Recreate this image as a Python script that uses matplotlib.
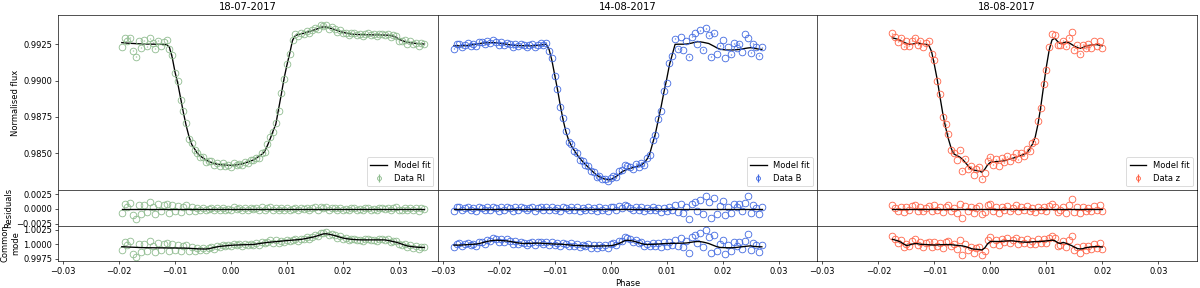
import matplotlib
matplotlib.use("Agg")
import matplotlib.pyplot as plt
import numpy as np

# values
# phase in units of 1e-4, offsets / residuals in ppm

titles = ['18-07-2017', '14-08-2017', '18-08-2017']
labels = ['Data RI', 'Data B', 'Data z']
colors = ['#8fbc8f', 'royalblue', 'tomato']
flux_err = 2e-5

# ---- 18-07-2017, RI ----
ri_phase = [-195, -190, -185, -180, -175, -170, -165, -160, -155, -150,
            -145, -140, -135, -130, -125, -120, -115, -110, -105, -100,
            -95, -90, -85, -80, -75, -70, -65, -60, -55, -50,
            -45, -40, -35, -30, -25, -20, -15, -10, -5, 0,
            5, 10, 15, 20, 25, 30, 35, 40, 45, 50,
            55, 60, 65, 70, 75, 80, 85, 90, 95, 100,
            105, 110, 115, 120, 125, 130, 135, 140, 145, 150,
            155, 160, 165, 170, 175, 180, 185, 190, 195, 200,
            205, 210, 215, 220, 225, 230, 235, 240, 245, 250,
            255, 260, 265, 270, 275, 280, 285, 290, 295, 300,
            305, 310, 315, 320, 325, 330, 335, 340, 345]
ri_model = [0.99262, 0.99260, 0.99258, 0.99257, 0.99256, 0.99255, 0.99254, 0.99253, 0.99253, 0.99252,
            0.99252, 0.99251, 0.99251, 0.99250, 0.99250, 0.99250, 0.99248, 0.99230, 0.99160, 0.99060,
            0.98980, 0.98880, 0.98780, 0.98690, 0.98615, 0.98560, 0.98530, 0.98500, 0.98482, 0.98468,
            0.98455, 0.98445, 0.98436, 0.98430, 0.98425, 0.98422, 0.98420, 0.98419, 0.98418, 0.98418,
            0.98419, 0.98421, 0.98424, 0.98427, 0.98433, 0.98440, 0.98447, 0.98454, 0.98466, 0.98480,
            0.98492, 0.98512, 0.98553, 0.98600, 0.98652, 0.98700, 0.98805, 0.98910, 0.99020, 0.99110,
            0.99190, 0.99280, 0.99310, 0.99318, 0.99322, 0.99326, 0.99332, 0.99338, 0.99345, 0.99351,
            0.99358, 0.99365, 0.99371, 0.99369, 0.99363, 0.99358, 0.99352, 0.99345, 0.99338, 0.99333,
            0.99328, 0.99324, 0.99320, 0.99319, 0.99318, 0.99317, 0.99317, 0.99316, 0.99316, 0.99316,
            0.99315, 0.99315, 0.99315, 0.99314, 0.99314, 0.99313, 0.99310, 0.99306, 0.99298, 0.99285,
            0.99277, 0.99270, 0.99265, 0.99261, 0.99259, 0.99256, 0.99255, 0.99253, 0.99252]
ri_sys = [0.99956, 0.99954, 0.99951, 0.99949, 0.99947, 0.99945, 0.99943, 0.99941, 0.99940, 0.99939,
          0.99938, 0.99938, 0.99937, 0.99937, 0.99936, 0.99936, 0.99935, 0.99935, 0.99934, 0.99934,
          0.99933, 0.99933, 0.99933, 0.99931, 0.99929, 0.99926, 0.99923, 0.99920, 0.99918, 0.99917,
          0.99916, 0.99922, 0.99932, 0.99943, 0.99953, 0.99961, 0.99966, 0.99971, 0.99976, 0.99980,
          0.99983, 0.99985, 0.99987, 0.99989, 0.99990, 0.99992, 0.99993, 0.99994, 1.00001, 1.00009,
          1.00016, 1.00023, 1.00029, 1.00034, 1.00039, 1.00043, 1.00047, 1.00052, 1.00057, 1.00061,
          1.00065, 1.00069, 1.00073, 1.00076, 1.00081, 1.00090, 1.00099, 1.00109, 1.00118, 1.00130,
          1.00145, 1.00161, 1.00176, 1.00178, 1.00170, 1.00159, 1.00148, 1.00133, 1.00118, 1.00105,
          1.00096, 1.00089, 1.00083, 1.00079, 1.00076, 1.00074, 1.00073, 1.00073, 1.00073, 1.00073,
          1.00073, 1.00073, 1.00073, 1.00073, 1.00072, 1.00064, 1.00054, 1.00043, 1.00033, 1.00018,
          1.00001, 0.99984, 0.99969, 0.99961, 0.99955, 0.99950, 0.99946, 0.99944, 0.99943]
ri_offset = [-300, 350, 150, 400, -500, -900, 200, -250, 250, -150,
             400, 100, -300, 250, -100, 150, 300, -150, 200, -100,
             150, -150, 100, 200, -150, 100, -100, 50, -80, 100,
             -120, 30, 80, -100, 50, -80, 100, -50, 30, -100,
             120, -30, 50, -80, 100, -50, 80, -30, 50, -100,
             120, -50, 80, 150, -80, 100, -120, 50, -100, 80,
             -50, 30, 100, -80, 50, -30, 80, -100, 50, 120,
             -50, 150, 80, 120, -80, 100, 50, -100, 80, -80,
             30, -120, 50, 80, -50, 30, -80, 50, 100, -50,
             30, -100, 80, 50, -30, 100, -80, 50, 120, -100,
             -50, 80, -120, 100, -80, 50, -150, 80, 30]
ri_resid = [-600, 800, 400, 1000, -1100, -1700, 600, -800, 700, -500,
            1100, 300, -800, 900, -400, 600, 900, -600, 700, -300,
            500, -500, 400, 600, -400, 300, -350, 200, -150, 200,
            -250, 50, 150, -200, 100, -150, 200, -100, 50, -200,
            250, -50, 100, -150, 200, -100, 150, -50, 100, -200,
            250, -100, 150, 300, -150, 200, -250, 100, -200, 150,
            -100, 50, 200, -150, 100, -50, 150, -200, 100, 250,
            -100, 300, 150, 250, -150, 200, 100, -200, 150, -150,
            50, -250, 100, 150, -100, 50, -150, 100, 200, -100,
            50, -200, 150, 100, -50, 200, -150, 100, 250, -200,
            -100, 150, -250, 200, -150, 100, -300, 150, 50]

# ---- 14-08-2017, B ----
b_phase = [-280, -275, -270, -265, -260, -255, -250, -245, -240, -235,
           -230, -225, -220, -215, -210, -205, -200, -195, -190, -185,
           -180, -175, -170, -165, -160, -155, -150, -145, -140, -135,
           -130, -125, -120, -115, -110, -105, -100, -95, -90, -85,
           -80, -75, -70, -65, -60, -55, -50, -45, -40, -35,
           -30, -25, -20, -15, -10, -5, 0, 5, 10, 15,
           20, 25, 30, 35, 40, 45, 50, 55, 60, 65,
           70, 75, 80, 85, 90, 95, 100, 105, 110, 115,
           120, 125, 130, 135, 140, 145, 150, 155, 160, 165,
           170, 175, 180, 185, 190, 195, 200, 205, 210, 215,
           220, 225, 230, 235, 240, 245, 250, 255, 260, 265, 270]
b_model = [0.99240, 0.99240, 0.99240, 0.99240, 0.99241, 0.99243, 0.99246, 0.99249, 0.99252, 0.99255,
           0.99258, 0.99260, 0.99261, 0.99262, 0.99262, 0.99261, 0.99259, 0.99256, 0.99253, 0.99250,
           0.99247, 0.99245, 0.99243, 0.99242, 0.99241, 0.99241, 0.99240, 0.99240, 0.99240, 0.99241,
           0.99243, 0.99246, 0.99249, 0.99250, 0.99215, 0.99140, 0.99040, 0.98940, 0.98830, 0.98730,
           0.98650, 0.98590, 0.98550, 0.98520, 0.98490, 0.98465, 0.98443, 0.98423, 0.98404, 0.98385,
           0.98367, 0.98350, 0.98337, 0.98328, 0.98322, 0.98318, 0.98318, 0.98330, 0.98341, 0.98356,
           0.98372, 0.98382, 0.98390, 0.98396, 0.98402, 0.98408, 0.98414, 0.98420, 0.98437, 0.98460,
           0.98500, 0.98570, 0.98638, 0.98730, 0.98820, 0.98920, 0.99010, 0.99110, 0.99180, 0.99250,
           0.99251, 0.99251, 0.99251, 0.99252, 0.99255, 0.99259, 0.99264, 0.99268, 0.99267, 0.99264,
           0.99260, 0.99256, 0.99246, 0.99236, 0.99225, 0.99217, 0.99214, 0.99212, 0.99211, 0.99211,
           0.99212, 0.99213, 0.99215, 0.99218, 0.99222, 0.99225, 0.99227, 0.99225, 0.99220, 0.99217, 0.99215]
b_sys = [0.99983, 0.99983, 0.99984, 0.99986, 0.99989, 0.99992, 0.99995, 0.99998, 1.00000, 1.00010,
         1.00022, 1.00035, 1.00047, 1.00057, 1.00063, 1.00067, 1.00065, 1.00062, 1.00058, 1.00055,
         1.00047, 1.00038, 1.00029, 1.00021, 1.00014, 1.00011, 1.00012, 1.00014, 1.00015, 1.00016,
         1.00017, 1.00016, 1.00013, 1.00010, 1.00007, 1.00004, 1.00002, 1.00000, 0.99999, 0.99996,
         0.99992, 0.99988, 0.99983, 0.99978, 0.99976, 0.99974, 0.99972, 0.99970, 0.99968, 0.99966,
         0.99966, 0.99967, 0.99968, 0.99969, 0.99970, 0.99971, 0.99973, 0.99982, 0.99995, 1.00011,
         1.00035, 1.00058, 1.00067, 1.00061, 1.00053, 1.00040, 1.00025, 1.00010, 0.99997, 0.99994,
         0.99995, 0.99997, 0.99999, 1.00002, 1.00006, 1.00009, 1.00011, 1.00012, 1.00013, 1.00014,
         1.00015, 1.00016, 1.00017, 1.00020, 1.00026, 1.00034, 1.00041, 1.00045, 1.00043, 1.00035,
         1.00024, 1.00011, 0.99992, 0.99973, 0.99955, 0.99944, 0.99941, 0.99939, 0.99938, 0.99938,
         0.99940, 0.99944, 0.99950, 0.99955, 0.99961, 0.99966, 0.99970, 0.99962, 0.99957, 0.99955, 0.99954]
b_offset = [-200, 100, 120, -100, 50, 150, -50, 30, -120, 100,
            50, -100, 120, -30, 150, 50, -120, 100, -50, 120,
            30, -150, 100, -50, 120, 50, -100, 30, 120, -120,
            50, 100, -50, 120, -100, 150, -50, 50, -120, 100,
            30, -100, 120, -50, 100, -120, 50, -30, 120, -100,
            50, -150, 100, -50, 30, -120, 100, 150, -50, 200,
            100, 350, 250, 100, -100, 200, -50, 150, -200, 100,
            -100, 200, -150, 50, -300, 100, -250, 150, -100, 400,
            -300, 500, -400, 200, -900, 450, 650, -150, 800, -500,
            1000, 550, -800, 900, -400, 250, 650, -550, 200, -300,
            450, 150, 400, -200, 1000, 700, -350, 300, 100, -450, 150]
b_resid = [-400, 250, 300, -250, 150, 350, -150, 100, -300, 250,
           150, -250, 300, -100, 350, 150, -300, 250, -150, 300,
           100, -350, 250, -150, 300, 150, -250, 100, 300, -300,
           150, 250, -150, 300, -250, 350, -150, 150, -300, 250,
           100, -250, 300, -150, 250, -300, 150, -100, 300, -250,
           150, -350, 250, -150, 100, -300, 250, 350, -150, 450,
           150, 600, 450, 200, -150, 350, -100, 250, -300, 150,
           -200, 300, -250, 100, -500, 200, -400, 300, -200, 600,
           -500, 900, -700, 400, -1700, 800, 1200, -300, 1500, -900,
           2200, 1100, -1500, 1800, -800, 500, 1300, -1100, 400, -600,
           900, 300, 800, -400, 1000, 2100, -700, 600, 200, -900, 300]

# ---- 18-08-2017, z ----
z_phase = [-175, -170, -165, -160, -155, -150, -145, -140, -135, -130,
           -125, -120, -115, -110, -105, -100, -95, -90, -85, -80,
           -75, -70, -65, -60, -55, -50, -45, -40, -35, -30,
           -25, -20, -15, -10, -5, 0, 5, 10, 15, 20,
           25, 30, 35, 40, 45, 50, 55, 60, 65, 70,
           75, 80, 85, 90, 95, 100, 105, 110, 115, 120,
           125, 130, 135, 140, 145, 150, 155, 160, 165, 170,
           175, 180, 185, 190, 195, 200]
z_model = [0.99295, 0.99290, 0.99284, 0.99276, 0.99266, 0.99257, 0.99252, 0.99250, 0.99256, 0.99262,
           0.99255, 0.99251, 0.99250, 0.99245, 0.99200, 0.99110, 0.99010, 0.98890, 0.98775, 0.98680,
           0.98600, 0.98535, 0.98495, 0.98485, 0.98475, 0.98460, 0.98438, 0.98415, 0.98395, 0.98385,
           0.98381, 0.98378, 0.98370, 0.98390, 0.98420, 0.98438, 0.98441, 0.98443, 0.98444, 0.98446,
           0.98448, 0.98455, 0.98461, 0.98466, 0.98472, 0.98479, 0.98486, 0.98493, 0.98502, 0.98530,
           0.98562, 0.98610, 0.98700, 0.98820, 0.98960, 0.99096, 0.99210, 0.99280, 0.99292, 0.99270,
           0.99255, 0.99260, 0.99266, 0.99262, 0.99250, 0.99238, 0.99228, 0.99222, 0.99228, 0.99237,
           0.99242, 0.99245, 0.99248, 0.99248, 0.99244, 0.99240]
z_sys = [1.00084, 1.00070, 1.00055, 1.00035, 1.00005, 0.99975, 0.99985, 1.00000, 1.00010, 1.00008,
         0.99998, 0.99995, 0.99993, 0.99990, 0.99987, 0.99985, 0.99987, 0.99990, 0.99992, 0.99993,
         0.99992, 0.99990, 0.99985, 0.99980, 0.99975, 0.99970, 0.99960, 0.99945, 0.99925, 0.99915,
         0.99912, 0.99908, 0.99900, 0.99935, 1.00005, 1.00045, 1.00046, 1.00046, 1.00045, 1.00048,
         1.00052, 1.00055, 1.00057, 1.00056, 1.00050, 1.00043, 1.00038, 1.00035, 1.00033, 1.00035,
         1.00040, 1.00044, 1.00045, 1.00046, 1.00050, 1.00055, 1.00062, 1.00068, 1.00060, 1.00025,
         1.00010, 1.00030, 1.00015, 0.99995, 0.99975, 0.99950, 0.99925, 0.99918, 0.99922, 0.99938,
         0.99945, 0.99952, 0.99956, 0.99958, 0.99955, 0.99950]
z_offset = [300, 100, -150, 200, -300, 150, -100, 250, 400, -150,
            200, -200, 100, 250, -150, 300, -100, 150, -250, 200,
            350, -150, 100, -300, 450, -800, 250, -200, 150, -350,
            100, 250, -450, -250, 300, 400, -200, 150, -300, 200,
            -100, 250, -150, 100, 300, -200, 150, -100, 250, -150,
            100, -250, 200, -100, 150, -200, 250, 400, 200, -250,
            -100, 150, -300, 350, 850, -250, 150, -350, 200, -150,
            100, -200, 250, -100, 300, -150]
z_resid = [600, 200, -300, 400, -500, 300, -200, 500, 700, -300,
           400, -400, 200, 500, -300, 600, -200, 300, -500, 400,
           700, -300, 200, -600, 900, -1600, 500, -400, 300, -700,
           200, 500, -900, -500, 600, 800, -400, 300, -600, 400,
           -200, 500, -300, 200, 600, -400, 300, -200, 500, -300,
           200, -500, 400, -200, 300, -400, 500, 800, 400, -500,
           -200, 300, -600, 700, 1700, -500, 300, -700, 400, -300,
           200, -400, 500, -200, 600, -300]

phases = [ri_phase, b_phase, z_phase]
models = [ri_model, b_model, z_model]
systs = [ri_sys, b_sys, z_sys]
offsets = [ri_offset, b_offset, z_offset]
resids = [ri_resid, b_resid, z_resid]

plt.rcParams['axes.formatter.useoffset'] = False

fig = plt.figure(figsize=(20, 4.8), dpi=60)
gs = fig.add_gridspec(3, 3, height_ratios=[5, 1, 1], hspace=0, wspace=0,
                      left=0.0483, right=0.9975, top=0.9479, bottom=0.0948)

for col in range(3):
    ph = np.array(phases[col]) * 1e-4
    model = np.array(models[col])
    sys_curve = np.array(systs[col])
    flux = model + np.array(offsets[col]) * 1e-6
    res = np.array(resids[col]) * 1e-6
    cm = sys_curve + res
    c = colors[col]

    ax1 = fig.add_subplot(gs[0, col])
    ax2 = fig.add_subplot(gs[1, col])
    ax3 = fig.add_subplot(gs[2, col])

    # light curve + model
    ax1.errorbar(ph, flux, yerr=flux_err, fmt='o', mfc='none', mec=c, ecolor=c,
                 ms=8, mew=1, label=labels[col])
    ax1.plot(ph, model, color='black', lw=1.6, label='Model fit')
    ax1.set_title(titles[col])
    ax1.legend(loc='lower right', markerscale=0.6)
    ax1.set_ylim(0.98244, 0.99452)
    ax1.set_yticks([0.985, 0.9875, 0.99, 0.9925])

    # residuals
    ax2.plot(ph, res, 'o', mfc='none', mec=c, ms=8, mew=1)
    ax2.plot([ph[0], ph[-1]], [0, 0], color='black', lw=1.6)
    ax2.set_ylim(-0.0028, 0.0031)
    ax2.set_yticks([-0.0025, 0.0, 0.0025])

    # common mode
    ax3.plot(ph, cm, 'o', mfc='none', mec=c, ms=8, mew=1)
    ax3.plot(ph, sys_curve, color='black', lw=1.6)
    ax3.set_ylim(0.99716, 1.00318)
    ax3.set_yticks([0.9975, 1.0, 1.0025])

    for ax in (ax1, ax2, ax3):
        ax.set_xlim(-0.0309, 0.0369)
        ax.set_xticks([-0.03, -0.02, -0.01, 0.0, 0.01, 0.02, 0.03])
        if col > 0:
            ax.tick_params(left=False, labelleft=False)
    for ax in (ax1, ax2):
        ax.tick_params(bottom=False, labelbottom=False)

    if col == 0:
        ax1.set_ylabel('Normalised flux')
        ax2.set_ylabel('Residuals')
        ax3.set_ylabel('Common\nmode')
    if col == 1:
        ax3.set_xlabel('Phase')

plt.savefig('out.png', dpi=60)
